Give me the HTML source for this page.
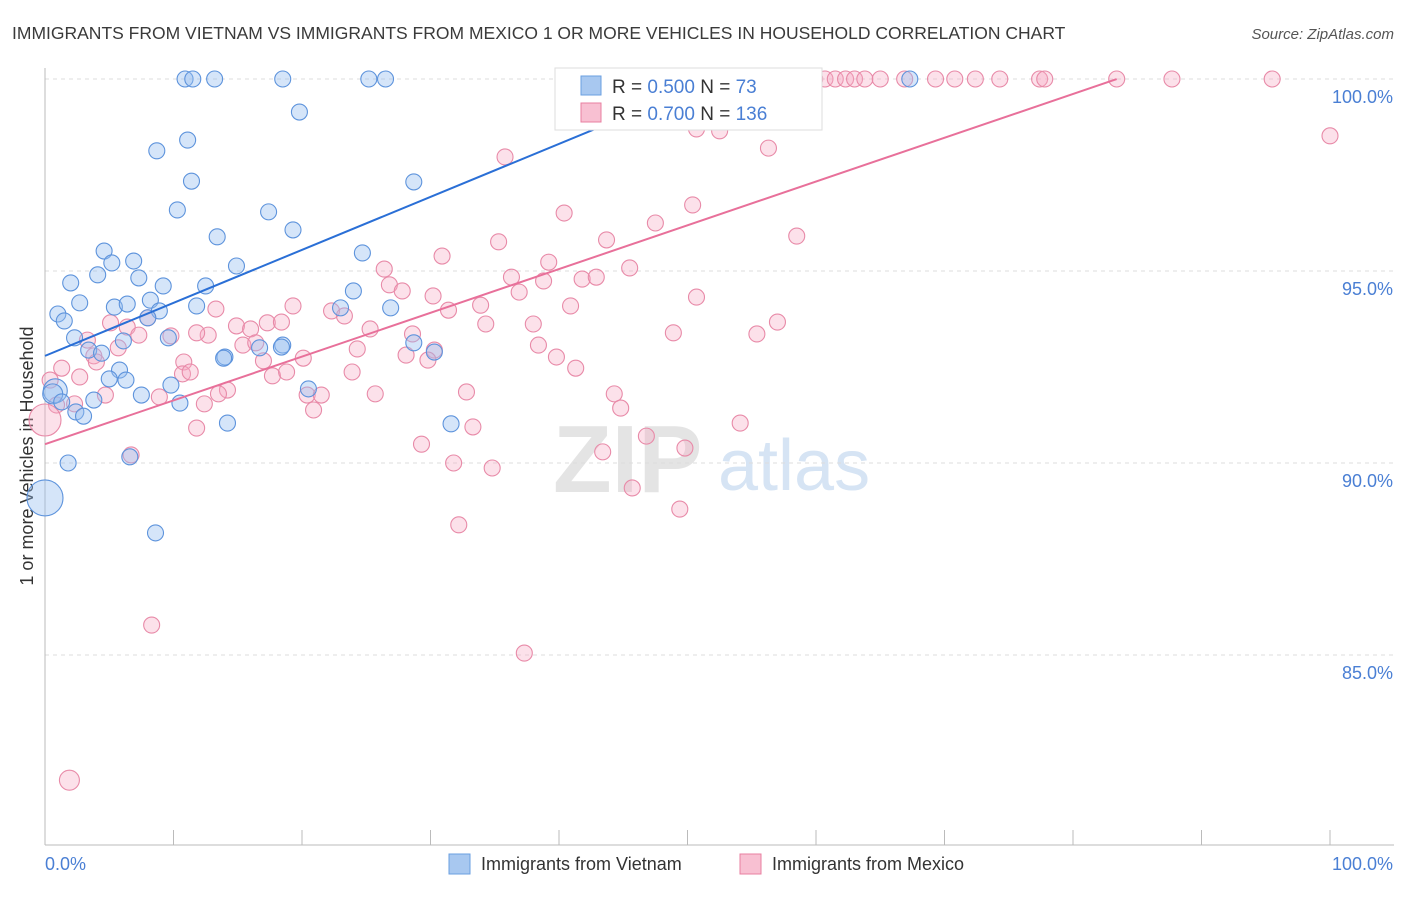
<!DOCTYPE html>
<html><head><meta charset="utf-8"><style>
body{margin:0;background:#fff;font-family:"Liberation Sans",sans-serif;}
svg text{font-family:"Liberation Sans",sans-serif;}
</style></head><body>
<svg width="1406" height="892" viewBox="0 0 1406 892">
<text x="12" y="39" font-size="17.5" fill="#3a3a3a">IMMIGRANTS FROM VIETNAM VS IMMIGRANTS FROM MEXICO 1 OR MORE VEHICLES IN HOUSEHOLD CORRELATION CHART</text>
<text x="1394" y="39" font-size="15" fill="#555" font-style="italic" text-anchor="end">Source: ZipAtlas.com</text>
<g><text x="553" y="492" font-size="96" font-family="Liberation Serif" fill="#e4e4e4" font-weight="bold">ZIP</text><text x="718" y="490" font-size="72" fill="#d6e4f4">atlas</text></g>
<g id="grid"></g>
<line x1="45" y1="68" x2="45" y2="845" stroke="#bbb"/>
<line x1="45" y1="845" x2="1394" y2="845" stroke="#bbb"/>
<g id="xticks"></g>
<g id="ylabels"></g>
<text x="45" y="870" font-size="18" fill="#4a7fd4">0.0%</text>
<text x="1393" y="870" font-size="18" fill="#4a7fd4" text-anchor="end">100.0%</text>
<text transform="translate(33,456) rotate(-90)" font-size="18" fill="#333" text-anchor="middle">1 or more Vehicles in Household</text>
<g id="pts"></g>
<g id="lines"></g>
<g>
<rect x="555" y="68" width="267" height="62" fill="#fff" stroke="#ddd"/>
<rect x="581" y="76" width="20" height="19" fill="#a8c8f0" stroke="#6a9fe0"/>
<rect x="581" y="103" width="20" height="19" fill="#f8c0d2" stroke="#e87fa0"/>
<text x="612" y="93" font-size="19" fill="#333">R = <tspan fill="#4a7fd4">0.500</tspan>   N = <tspan fill="#4a7fd4">73</tspan></text>
<text x="612" y="120" font-size="19" fill="#333">R = <tspan fill="#4a7fd4">0.700</tspan>   N = <tspan fill="#4a7fd4">136</tspan></text>
</g>
<g><rect x="449" y="854" width="21" height="20" fill="#a8c8f0" stroke="#6a9fe0"/><text x="481" y="870" font-size="18" fill="#333">Immigrants from Vietnam</text></g>
<g><rect x="740" y="854" width="21" height="20" fill="#f8c0d2" stroke="#e87fa0"/><text x="772" y="870" font-size="18" fill="#333">Immigrants from Mexico</text></g>
</svg>
<script>
const yTicks=[100,95,90,85];
const yTickLabels=["100.0%","95.0%","90.0%","85.0%"];
const xTicks=[0,10,20,30,40,50,60,70,80,90,100];
const blueX=[10.9,11.5,13.2,18.5,25.2,26.5,43.2,52.1,67.3,19.8,11.1,8.7,11.4,28.7,10.3,17.4,19.3,13.4,4.6,24.7,5.2,6.9,14.9,2.0,4.1,7.3,9.2,12.5,2.7,5.4,6.4,8.2,8.9,11.8,1.0,1.5,8.0,24.0,23.0,26.9,2.3,6.1,9.6,3.4,4.4,14.0,13.9,16.7,18.5,18.4,28.7,30.3,5.8,5.0,6.3,0.8,0.6,1.3,3.8,7.5,9.8,10.5,2.4,3.0,20.5,14.2,31.6,1.8,6.6,8.6,0];
const blueY=[100,100,100,100,100,100,100,100,100,99.14,98.41,98.13,97.34,97.32,96.59,96.54,96.07,95.89,95.52,95.47,95.21,95.26,95.13,94.69,94.9,94.82,94.61,94.61,94.17,94.06,94.14,94.24,93.96,94.09,93.88,93.7,93.78,94.48,94.04,94.04,93.26,93.18,93.26,92.94,92.86,92.76,92.73,93.0,93.07,93.02,93.13,92.89,92.42,92.19,92.16,91.88,91.8,91.59,91.64,91.77,92.03,91.56,91.33,91.22,91.93,91.04,91.02,90.0,90.16,88.18,89.09];
const blueR=[8,8,8,8,8,8,8,8,8,8,8,8,8,8,8,8,8,8,8,8,8,8,8,8,8,8,8,8,8,8,8,8,8,8,8,8,8,8,8,8,8,8,8,8,8,8,8,8,8,8,8,8,8,8,8,12,10,8,8,8,8,8,8,8,8,8,8,8,8,8,18];
const pinkX=[43.4,46.1,47.9,50.2,52.5,54.5,56.0,58.0,59.1,59.9,60.7,61.5,62.3,63.0,63.8,65.0,66.9,69.3,70.8,72.4,74.3,77.4,77.8,83.4,87.7,95.5,100,35.8,52.5,56.3,50.7,40.4,47.5,50.4,58.5,35.3,43.7,30.9,39.2,45.5,26.4,36.3,26.8,27.8,41.8,42.9,38.8,36.9,30.2,19.3,13.3,22.3,23.3,40.9,50.7,33.9,31.4,57.0,5.1,6.4,8.0,14.9,16.0,17.3,18.4,12.7,9.8,11.8,7.3,3.3,5.7,28.6,25.3,34.3,38.0,48.9,55.4,15.4,16.4,24.3,17.0,20.1,28.1,3.8,4.0,10.8,38.4,39.8,10.7,11.3,2.7,1.3,17.7,18.8,23.9,41.3,30.3,29.8,0.4,4.7,8.9,14.2,13.5,20.4,21.5,25.7,32.8,44.3,44.8,20.9,12.4,0.9,2.3,11.8,33.3,54.1,46.8,29.3,31.8,34.8,43.4,49.8,45.7,32.2,49.4,6.7,8.3,37.3,1.9,0];
const pinkY=[100,100,100,100,100,100,100,100,100,100,100,100,100,100,100,100,100,100,100,100,100,100,100,100,100,100,98.52,97.97,98.65,98.2,98.7,96.51,96.25,96.72,95.91,95.76,95.81,95.39,95.23,95.08,95.05,94.84,94.64,94.48,94.79,94.84,94.74,94.45,94.35,94.09,94.01,93.96,93.83,94.09,94.32,94.11,93.98,93.67,93.65,93.54,93.78,93.57,93.49,93.65,93.67,93.33,93.31,93.39,93.33,93.2,93.0,93.36,93.49,93.62,93.62,93.39,93.36,93.07,93.13,92.97,92.66,92.73,92.81,92.79,92.63,92.63,93.07,92.76,92.32,92.37,92.24,92.47,92.27,92.37,92.37,92.47,92.94,92.68,92.16,91.77,91.72,91.9,91.8,91.77,91.77,91.8,91.85,91.8,91.43,91.38,91.54,91.51,91.54,90.91,90.94,91.04,90.7,90.49,90.0,89.87,90.29,90.39,89.35,88.39,88.8,90.21,85.78,85.05,81.74,91.12];
const blueLine=[92.79,0.138];
const pinkLine=[90.49,0.114];
const blueLineEnd=52.1, pinkLineEnd=83.4;
const NS="http://www.w3.org/2000/svg";
function X(v){return 45+v*12.85;}
function Y(v){return 79+(100-v)*38.4;}
function mk(tag,attrs,parent){const e=document.createElementNS(NS,tag);for(const k in attrs)e.setAttribute(k,attrs[k]);document.getElementById(parent).appendChild(e);return e;}
yTicks.forEach((t,i)=>{
 const l=mk('line',{x1:45,x2:1394,y1:Y(t),y2:Y(t),stroke:'#ddd','stroke-dasharray':'4,4'},'grid');
 
 
 const tx=mk('text',{x:1393,y:Y(t)+24,'font-size':18,fill:'#4a7fd4','text-anchor':'end'},'ylabels');
 tx.textContent=yTickLabels[i];
 
 
});
xTicks.forEach(t=>{
 const l=mk('line',{x1:X(t),x2:X(t),y1:830,y2:845,stroke:'#bbb'},'xticks');
 
 
});
pinkX.forEach((x,i)=>{
 const c=mk('circle',{cx:X(x),cy:Y(pinkY[i]),r:(i==pinkX.length-1?16:(i==pinkX.length-2?10:8)),fill:'rgba(246,170,196,0.35)',stroke:'#e88aa8','stroke-width':1.1},'pts');
 
 
});
blueX.forEach((x,i)=>{
 const c=mk('circle',{cx:X(x),cy:Y(blueY[i]),r:blueR[i],fill:'rgba(150,190,240,0.4)',stroke:'#5d93dc','stroke-width':1.1},'pts');
 
 
});
const bl=mk('line',{x1:X(0),y1:Y(blueLine[0]),x2:X(blueLineEnd),y2:Y(blueLine[0]+blueLine[1]*blueLineEnd),stroke:'#2a6fd6','stroke-width':2},'lines');


const pl=mk('line',{x1:X(0),y1:Y(pinkLine[0]),x2:X(pinkLineEnd),y2:Y(pinkLine[0]+pinkLine[1]*pinkLineEnd),stroke:'#e8709a','stroke-width':2},'lines');


</script>
</body></html>
